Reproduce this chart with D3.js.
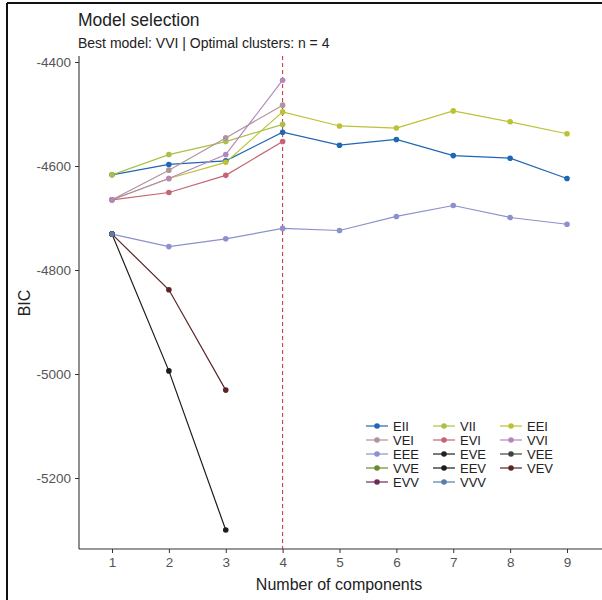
<!DOCTYPE html>
<html>
<head>
<meta charset="utf-8">
<script src="https://cdn.jsdelivr.net/npm/d3@7"></script>
<style>
  body { margin: 0; background: #fff; }
  text { font-family: 'Liberation Sans', Arial, sans-serif; }
</style>
</head>
<body>
<div id="chart"></div>
<script>
// number of mixture components
let components = [1, 2, 3, 4, 5, 6, 7, 8, 9]
let yTicks = [-5200, -5000, -4800, -4600, -4400]

// BIC values per model (null = not fitted)
let bicEII = [-4617, -4597, -4590, -4535, -4560, -4549, -4580, -4585, -4624]
let bicVII = [-4617, -4578, -4553, -4520, null, null, null, null, null]
let bicEEI = [-4665, -4624, -4593, -4496, -4523, -4527, -4494, -4515, -4538]
let bicVEI = [-4665, -4608, -4546, -4483, null, null, null, null, null]
let bicEVI = [-4665, -4651, -4618, -4553, null, null, null, null, null]
let bicVVI = [-4665, -4624, -4578, -4435, null, null, null, null, null]
let bicEEE = [-4731, -4755, -4740, -4720, -4724, -4697, -4676, -4699, -4712]
let bicEVE = [-4731, null, null, null, null, null, null, null, null]
let bicVEE = [-4731, null, null, null, null, null, null, null, null]
let bicVVE = [-4731, null, null, null, null, null, null, null, null]
let bicEEV = [-4731, -4994, -5300, null, null, null, null, null, null]
let bicVEV = [-4731, -4838, -5031, null, null, null, null, null, null]
let bicEVV = [-4731, null, null, null, null, null, null, null, null]
let bicVVV = [-4731, null, null, null, null, null, null, null, null]

let modelNames = ['EII', 'VII', 'EEI', 'VEI', 'EVI', 'VVI', 'EEE',
  'EVE', 'VEE', 'VVE', 'EEV', 'VEV', 'EVV', 'VVV']
let modelColors = ['#1f66b4', '#a9c04a', '#bcc235', '#b0949c', '#c46474',
  '#b486bc', '#8c90cc', '#222222', '#3c463c', '#6a8a2c', '#1c1c1c',
  '#5a2424', '#6e2c54', '#5a7eaa']
let bicValues = [bicEII, bicVII, bicEEI, bicVEI, bicEVI, bicVVI, bicEEE,
  bicEVE, bicVEE, bicVVE, bicEEV, bicVEV, bicEVV, bicVVV]

let bestK = 4

let width = 602
let height = 600
let margin = { top: 56, left: 79, right: 0, bottom: 49 }

let svg = d3
  .select('#chart')
  .append('svg')
  .attr('width', width)
  .attr('height', height)

// frame around the picture
svg.append('line').attr('x1', 7).attr('x2', 7).attr('y1', 3).attr('y2', height)
  .attr('stroke', '#111').attr('stroke-width', 2)
svg.append('line').attr('x1', 7).attr('x2', width).attr('y1', 3).attr('y2', 3)
  .attr('stroke', '#111').attr('stroke-width', 2)

let xScale = d3
  .scalePoint()
  .domain(components)
  .range([112, 567])

let yScale = d3
  .scaleLinear()
  .domain([-5200, -4400])
  .range([478, 62])

let plotBottom = height - margin.bottom - 2

// axes
let xAxis = d3.axisBottom(xScale).tickSize(4).tickPadding(4)
let yAxis = d3.axisLeft(yScale)
  .tickValues(yTicks)
  .tickFormat(d => String(d))
  .tickSize(4)
  .tickPadding(4)

let gx = svg.append('g')
  .attr('transform', `translate(0,${plotBottom})`)
  .call(xAxis)
gx.select('.domain').remove()
gx.append('line').attr('x1', margin.left).attr('x2', width)
  .attr('stroke', '#333').attr('stroke-width', 1.1)

let gy = svg.append('g')
  .attr('transform', `translate(${margin.left},0)`)
  .call(yAxis)
gy.select('.domain').remove()
gy.append('line').attr('y1', margin.top).attr('y2', plotBottom)
  .attr('stroke', '#333').attr('stroke-width', 1.1)

svg.selectAll('.tick line').attr('stroke', '#333')
svg.selectAll('.tick text')
  .attr('fill', '#555')
  .style('font-size', '13.5px')

// best model marker
svg.append('line')
  .attr('x1', xScale(bestK)).attr('x2', xScale(bestK))
  .attr('y1', margin.top).attr('y2', plotBottom)
  .attr('stroke', '#c8283c')
  .attr('stroke-width', 1)
  .attr('stroke-dasharray', '4,3')

let series = modelNames.map((name, i) => ({
  name: name,
  color: modelColors[i],
  values: components.map((k, j) => ({ k: k, bic: bicValues[i][j] }))
}))

let line = d3.line()
  .defined(d => d.bic !== null)
  .x(d => xScale(d.k))
  .y(d => yScale(d.bic))

svg.selectAll('.model-line')
  .data(series)
  .enter()
  .append('path')
  .attr('class', 'model-line')
  .attr('d', d => line(d.values))
  .attr('fill', 'none')
  .attr('stroke', d => d.color)
  .attr('stroke-width', 1.2)

series.forEach(s => {
  svg.selectAll('.pt-' + s.name)
    .data(s.values.filter(d => d.bic !== null))
    .enter()
    .append('circle')
    .attr('cx', d => xScale(d.k))
    .attr('cy', d => yScale(d.bic))
    .attr('r', 2.8)
    .attr('fill', s.color)
})

// titles
svg.append('text').attr('x', 78).attr('y', 26)
  .text('Model selection')
  .attr('fill', '#222').style('font-size', '17.5px')
svg.append('text').attr('x', 78).attr('y', 48)
  .text('Best model: VVI | Optimal clusters: n = 4')
  .attr('fill', '#222').style('font-size', '14px')

svg.append('text')
  .attr('transform', 'translate(30,303) rotate(-90)')
  .attr('text-anchor', 'middle')
  .text('BIC')
  .attr('fill', '#222').style('font-size', '16px')

svg.append('text').attr('x', 339).attr('y', 590)
  .attr('text-anchor', 'middle')
  .text('Number of components')
  .attr('fill', '#222').style('font-size', '16px')

// legend, three columns filled row by row
let legend = svg.append('g').attr('transform', 'translate(366,426)')
series.forEach((s, i) => {
  let col = i % 3
  let row = Math.floor(i / 3)
  let g = legend.append('g')
    .attr('transform', `translate(${col * 67},${row * 14})`)
  g.append('line').attr('x1', 0).attr('x2', 22)
    .attr('stroke', s.color).attr('stroke-width', 1.2)
  g.append('circle').attr('cx', 11).attr('r', 2.8).attr('fill', s.color)
  g.append('text').attr('x', 27).attr('y', 4.5)
    .text(s.name).attr('fill', '#222').style('font-size', '13px')
})
</script>
</body>
</html>
